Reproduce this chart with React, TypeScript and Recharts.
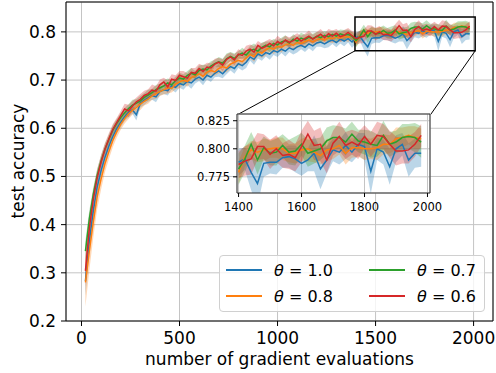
import {
  ComposedChart,
  Line,
  Area,
  XAxis,
  YAxis,
  CartesianGrid,
  ReferenceArea,
  ReferenceLine,
  Label,
} from "recharts";

// gradient evaluations (x)
const evals = [
  20, 40, 60, 80, 100, 120, 140, 160, 180, 200,
  220, 240, 260, 280, 300, 320, 340, 360, 380, 400,
  420, 440, 460, 480, 500, 520, 540, 560, 580, 600,
  620, 640, 660, 680, 700, 720, 740, 760, 780, 800,
  820, 840, 860, 880, 900, 920, 940, 960, 980, 1000,
  1020, 1040, 1060, 1080, 1100, 1120, 1140, 1160, 1180, 1200,
  1220, 1240, 1260, 1280, 1300, 1320, 1340, 1360, 1380, 1400,
  1420, 1440, 1460, 1480, 1500, 1520, 1540, 1560, 1580, 1600,
  1620, 1640, 1660, 1680, 1700, 1720, 1740, 1760, 1780, 1800,
  1820, 1840, 1860, 1880, 1900, 1920, 1940, 1960, 1980,
];

// theta = 1.0
const meanT10 = [
  0.283, 0.365, 0.428, 0.478, 0.512, 0.540, 0.563, 0.583, 0.599, 0.612,
  0.624, 0.633, 0.638, 0.628, 0.652, 0.658, 0.663, 0.668, 0.665, 0.676,
  0.680, 0.678, 0.688, 0.685, 0.693, 0.690, 0.697, 0.694, 0.702, 0.706,
  0.700, 0.710, 0.706, 0.714, 0.719, 0.713, 0.722, 0.728, 0.724, 0.734,
  0.730, 0.737, 0.748, 0.743, 0.754, 0.750, 0.757, 0.754, 0.761, 0.758,
  0.764, 0.760, 0.767, 0.763, 0.769, 0.772, 0.768, 0.775, 0.771, 0.777,
  0.779, 0.775, 0.780, 0.783, 0.778, 0.785, 0.781, 0.786, 0.779, 0.788,
  0.791, 0.779, 0.769, 0.787, 0.788, 0.788, 0.792, 0.793, 0.791, 0.787,
  0.790, 0.796, 0.782, 0.790, 0.799, 0.797, 0.803, 0.797, 0.804, 0.802,
  0.780, 0.800, 0.797, 0.784, 0.800, 0.804, 0.790, 0.796, 0.796,
];
const stdT10 = [
  0.030, 0.026, 0.022, 0.019, 0.016, 0.014, 0.012, 0.011, 0.010, 0.010,
  0.009, 0.010, 0.008, 0.012, 0.009, 0.010, 0.008, 0.009, 0.011, 0.008,
  0.009, 0.010, 0.008, 0.011, 0.009, 0.010, 0.008, 0.012, 0.009, 0.008,
  0.011, 0.009, 0.010, 0.008, 0.012, 0.009, 0.010, 0.008, 0.011, 0.009,
  0.010, 0.012, 0.008, 0.011, 0.009, 0.010, 0.008, 0.012, 0.009, 0.010,
  0.008, 0.011, 0.009, 0.010, 0.012, 0.008, 0.010, 0.009, 0.011, 0.008,
  0.010, 0.009, 0.012, 0.008, 0.010, 0.009, 0.011, 0.008, 0.012, 0.012,
  0.010, 0.016, 0.020, 0.012, 0.010, 0.011, 0.009, 0.010, 0.012, 0.011,
  0.010, 0.016, 0.018, 0.012, 0.010, 0.011, 0.012, 0.009, 0.010, 0.012,
  0.020, 0.010, 0.011, 0.016, 0.012, 0.010, 0.015, 0.013, 0.012,
];

// theta = 0.8
const meanT08 = [
  0.280, 0.345, 0.405, 0.458, 0.495, 0.527, 0.552, 0.575, 0.593, 0.608,
  0.620, 0.630, 0.637, 0.643, 0.650, 0.656, 0.661, 0.667, 0.672, 0.676,
  0.680, 0.684, 0.683, 0.691, 0.696, 0.700, 0.697, 0.705, 0.709, 0.713,
  0.708, 0.716, 0.720, 0.717, 0.724, 0.728, 0.725, 0.733, 0.737, 0.741,
  0.738, 0.746, 0.753, 0.749, 0.759, 0.756, 0.763, 0.767, 0.764, 0.770,
  0.768, 0.773, 0.776, 0.772, 0.778, 0.776, 0.780, 0.783, 0.779, 0.784,
  0.786, 0.783, 0.788, 0.786, 0.790, 0.787, 0.791, 0.789, 0.792, 0.779,
  0.793, 0.799, 0.797, 0.799, 0.800, 0.801, 0.800, 0.796, 0.796, 0.799,
  0.800, 0.797, 0.794, 0.799, 0.800, 0.803, 0.796, 0.801, 0.801, 0.800,
  0.800, 0.801, 0.804, 0.804, 0.809, 0.810, 0.812, 0.810, 0.809,
];
const stdT08 = [
  0.050, 0.040, 0.032, 0.026, 0.022, 0.018, 0.016, 0.014, 0.012, 0.011,
  0.010, 0.011, 0.009, 0.010, 0.012, 0.009, 0.010, 0.008, 0.011, 0.009,
  0.010, 0.012, 0.009, 0.010, 0.013, 0.009, 0.011, 0.008, 0.010, 0.012,
  0.009, 0.010, 0.011, 0.008, 0.010, 0.012, 0.009, 0.010, 0.008, 0.011,
  0.009, 0.010, 0.008, 0.011, 0.009, 0.010, 0.012, 0.008, 0.010, 0.009,
  0.011, 0.008, 0.010, 0.009, 0.011, 0.008, 0.010, 0.009, 0.008, 0.010,
  0.009, 0.008, 0.010, 0.009, 0.011, 0.008, 0.009, 0.010, 0.008, 0.010,
  0.009, 0.008, 0.009, 0.010, 0.008, 0.009, 0.010, 0.008, 0.009, 0.010,
  0.011, 0.009, 0.008, 0.010, 0.009, 0.008, 0.010, 0.009, 0.008, 0.010,
  0.009, 0.011, 0.009, 0.008, 0.010, 0.009, 0.008, 0.010, 0.009,
];

// theta = 0.7
const meanT07 = [
  0.345, 0.412, 0.462, 0.502, 0.532, 0.557, 0.577, 0.596, 0.610, 0.622,
  0.632, 0.641, 0.648, 0.652, 0.657, 0.664, 0.669, 0.674, 0.680, 0.684,
  0.688, 0.694, 0.690, 0.699, 0.704, 0.702, 0.710, 0.714, 0.711, 0.720,
  0.723, 0.721, 0.729, 0.734, 0.738, 0.735, 0.744, 0.749, 0.745, 0.752,
  0.756, 0.752, 0.761, 0.764, 0.760, 0.768, 0.772, 0.769, 0.776, 0.773,
  0.779, 0.782, 0.777, 0.785, 0.781, 0.787, 0.784, 0.789, 0.786, 0.791,
  0.788, 0.793, 0.790, 0.795, 0.791, 0.796, 0.793, 0.795, 0.791, 0.782,
  0.791, 0.804, 0.790, 0.801, 0.796, 0.797, 0.803, 0.797, 0.798, 0.804,
  0.796, 0.798, 0.800, 0.807, 0.810, 0.810, 0.806, 0.813, 0.807, 0.806,
  0.804, 0.803, 0.812, 0.804, 0.806, 0.810, 0.811, 0.810, 0.806,
];
const stdT07 = [
  0.022, 0.018, 0.015, 0.013, 0.012, 0.011, 0.010, 0.010, 0.009, 0.009,
  0.010, 0.009, 0.011, 0.008, 0.010, 0.009, 0.011, 0.008, 0.010, 0.009,
  0.011, 0.009, 0.010, 0.008, 0.011, 0.010, 0.009, 0.011, 0.008, 0.010,
  0.009, 0.011, 0.010, 0.008, 0.010, 0.009, 0.011, 0.009, 0.010, 0.008,
  0.011, 0.009, 0.010, 0.012, 0.009, 0.010, 0.008, 0.011, 0.009, 0.010,
  0.009, 0.011, 0.008, 0.010, 0.009, 0.011, 0.010, 0.008, 0.010, 0.009,
  0.011, 0.009, 0.010, 0.008, 0.010, 0.009, 0.011, 0.010, 0.009, 0.014,
  0.012, 0.011, 0.013, 0.010, 0.011, 0.012, 0.010, 0.011, 0.013, 0.010,
  0.012, 0.011, 0.010, 0.012, 0.011, 0.010, 0.012, 0.011, 0.010, 0.011,
  0.012, 0.010, 0.013, 0.011, 0.010, 0.012, 0.011, 0.013, 0.014,
];

// theta = 0.6
const meanT06 = [
  0.304, 0.392, 0.452, 0.497, 0.530, 0.557, 0.578, 0.598, 0.612, 0.626,
  0.640, 0.636, 0.646, 0.655, 0.660, 0.668, 0.672, 0.679, 0.677, 0.690,
  0.696, 0.686, 0.702, 0.699, 0.710, 0.707, 0.704, 0.716, 0.714, 0.724,
  0.718, 0.727, 0.725, 0.733, 0.737, 0.731, 0.743, 0.748, 0.742, 0.754,
  0.751, 0.760, 0.764, 0.758, 0.772, 0.766, 0.770, 0.776, 0.771, 0.780,
  0.775, 0.783, 0.778, 0.782, 0.788, 0.781, 0.786, 0.791, 0.785, 0.790,
  0.795, 0.788, 0.796, 0.791, 0.797, 0.790, 0.793, 0.799, 0.792, 0.786,
  0.789, 0.791, 0.802, 0.802, 0.795, 0.800, 0.794, 0.795, 0.792, 0.802,
  0.813, 0.803, 0.804, 0.790, 0.805, 0.811, 0.803, 0.806, 0.803, 0.811,
  0.804, 0.812, 0.811, 0.804, 0.798, 0.798, 0.799, 0.804, 0.812,
];
const stdT06 = [
  0.032, 0.026, 0.021, 0.018, 0.015, 0.013, 0.012, 0.011, 0.010, 0.010,
  0.011, 0.013, 0.010, 0.009, 0.011, 0.010, 0.009, 0.012, 0.010, 0.011,
  0.009, 0.013, 0.010, 0.011, 0.009, 0.012, 0.010, 0.009, 0.011, 0.010,
  0.012, 0.009, 0.010, 0.011, 0.009, 0.012, 0.010, 0.009, 0.011, 0.010,
  0.009, 0.011, 0.010, 0.012, 0.009, 0.010, 0.011, 0.009, 0.010, 0.012,
  0.010, 0.009, 0.011, 0.010, 0.009, 0.011, 0.010, 0.012, 0.009, 0.010,
  0.011, 0.009, 0.010, 0.012, 0.009, 0.010, 0.011, 0.009, 0.010, 0.012,
  0.013, 0.014, 0.012, 0.011, 0.013, 0.012, 0.011, 0.013, 0.012, 0.014,
  0.012, 0.013, 0.015, 0.012, 0.011, 0.013, 0.012, 0.011, 0.012, 0.010,
  0.011, 0.012, 0.011, 0.012, 0.013, 0.011, 0.012, 0.011, 0.010,
];

const xTicks = [0, 500, 1000, 1500, 2000];
const yTicks = [0.2, 0.3, 0.4, 0.5, 0.6, 0.7, 0.8];
const insetXTicks = [1400, 1600, 1800, 2000];
const insetYTicks = [0.775, 0.8, 0.825];

const series = [
  { key: "t10", label: "1.0", color: "#1f77b4", mean: meanT10, std: stdT10 },
  { key: "t08", label: "0.8", color: "#ff7f0e", mean: meanT08, std: stdT08 },
  { key: "t07", label: "0.7", color: "#2ca02c", mean: meanT07, std: stdT07 },
  { key: "t06", label: "0.6", color: "#d62728", mean: meanT06, std: stdT06 },
];

const rows = evals.map((x, i) => {
  const row: any = { x };
  series.forEach((s) => {
    row[s.key] = s.mean[i];
    row[s.key + "Band"] = [s.mean[i] - s.std[i], s.mean[i] + s.std[i]];
  });
  return row;
});

const mainX: [number, number] = [-79, 2099];
const mainY: [number, number] = [0.2, 0.862];
const zoomX: [number, number] = [1395, 2008];
const zoomY: [number, number] = [0.7606, 0.831];
const insetRows = rows.filter((r) => r.x >= 1400);

const font = "'DejaVu Sans', sans-serif";

function drawSeries(width: number) {
  return [
    ...series.map((s) => (
      <Area
        key={s.key + "a"}
        type="linear"
        dataKey={s.key + "Band"}
        stroke="none"
        fill={s.color}
        fillOpacity={0.3}
        isAnimationActive={false}
        dot={false}
        activeDot={false}
      />
    )),
    ...series.map((s) => (
      <Line
        key={s.key + "l"}
        type="linear"
        dataKey={s.key}
        stroke={s.color}
        strokeWidth={width}
        dot={false}
        activeDot={false}
        isAnimationActive={false}
      />
    )),
  ];
}

function LegendBox() {
  return (
    <div
      style={{
        position: "absolute",
        left: 219,
        top: 255,
        width: 264,
        height: 55,
        border: "1px solid #d0d0d0",
        borderRadius: 4,
        background: "rgba(255,255,255,0.8)",
        fontSize: 16,
        color: "#000",
      }}
    >
      {series.map((s, i) => (
        <div
          key={s.key}
          style={{
            position: "absolute",
            left: 6 + Math.floor(i / 2) * 143,
            top: 3 + (i % 2) * 26,
            height: 22,
            display: "flex",
            alignItems: "center",
            whiteSpace: "nowrap",
          }}
        >
          <span
            style={{ display: "inline-block", width: 36, height: 2, background: s.color, marginRight: 12 }}
          />
          <span>
            <i>θ</i> = {s.label}
          </span>
        </div>
      ))}
    </div>
  );
}

export default function App() {
  return (
    <div style={{ position: "fixed", left: 0, top: 0, width: 496, height: 373, background: "#fff", fontFamily: font }}>
      <ComposedChart width={496} height={373} data={rows} margin={{ top: 2, right: 3, bottom: 0, left: 0 }}>
        <CartesianGrid stroke="#c4c4c4" strokeWidth={1} />
        <XAxis
          dataKey="x"
          type="number"
          domain={mainX}
          ticks={xTicks}
          allowDataOverflow
          height={52}
          tickSize={5}
          tickMargin={6}
          axisLine={false}
          tickLine={{ stroke: "#000" }}
          tick={{ fontSize: 17, fill: "#000" }}
        >
          <Label
            content={() => (
              <text x={279.5} y={365} textAnchor="middle" fontSize={17} fill="#000">
                number of gradient evaluations
              </text>
            )}
          />
        </XAxis>
        <YAxis
          type="number"
          domain={mainY}
          ticks={yTicks}
          allowDataOverflow
          width={66}
          tickSize={5}
          tickMargin={5}
          axisLine={false}
          tickLine={{ stroke: "#000" }}
          tick={{ fontSize: 17, fill: "#000" }}
          tickFormatter={(v: number) => v.toFixed(1)}
        >
          <Label
            content={() => (
              <text
                x={17.5}
                y={161}
                transform="rotate(-90 17.5 161)"
                textAnchor="middle"
                dominantBaseline="central"
                fontSize={17}
                fill="#000"
              >
                test accuracy
              </text>
            )}
          />
        </YAxis>
        {drawSeries(1.5)}
        <ReferenceArea x1={zoomX[0]} x2={zoomX[1]} y1={zoomY[0]} y2={zoomY[1]} fill="none" stroke="#000" strokeWidth={1.5} />
        <ReferenceLine segment={[{ x: zoomX[0], y: zoomY[0] }, { x: 797, y: 0.6285 }]} stroke="#000" strokeWidth={1} />
        <ReferenceLine segment={[{ x: zoomX[1], y: zoomY[0] }, { x: 1781, y: 0.6285 }]} stroke="#000" strokeWidth={1} />
        <ReferenceArea x1={mainX[0]} x2={mainX[1]} y1={mainY[0]} y2={mainY[1]} fill="none" stroke="#000" strokeWidth={1} />
      </ComposedChart>

      <div style={{ position: "absolute", left: 190, top: 110 }}>
        <ComposedChart width={265} height={110} data={insetRows} margin={{ top: 4, right: 25, bottom: 0, left: 0 }}>
          <CartesianGrid stroke="#c4c4c4" strokeWidth={1} fill="#fff" fillOpacity={1} />
          <XAxis
            dataKey="x"
            type="number"
            domain={zoomX}
            ticks={insetXTicks}
            allowDataOverflow
            height={27}
            tickSize={4}
            tickMargin={6}
            axisLine={false}
            tickLine={{ stroke: "#000" }}
            tick={{ fontSize: 11.5, fill: "#000" }}
          />
          <YAxis
            type="number"
            domain={zoomY}
            ticks={insetYTicks}
            allowDataOverflow
            width={47}
            tickSize={4}
            tickMargin={3}
            axisLine={false}
            tickLine={{ stroke: "#000" }}
            tick={{ fontSize: 11.5, fill: "#000" }}
            tickFormatter={(v: number) => v.toFixed(3)}
          />
          {drawSeries(1.5)}
          <ReferenceArea x1={zoomX[0]} x2={zoomX[1]} y1={zoomY[0]} y2={zoomY[1]} fill="none" stroke="#333" strokeWidth={1} />
        </ComposedChart>
      </div>

      <LegendBox />
    </div>
  );
}
